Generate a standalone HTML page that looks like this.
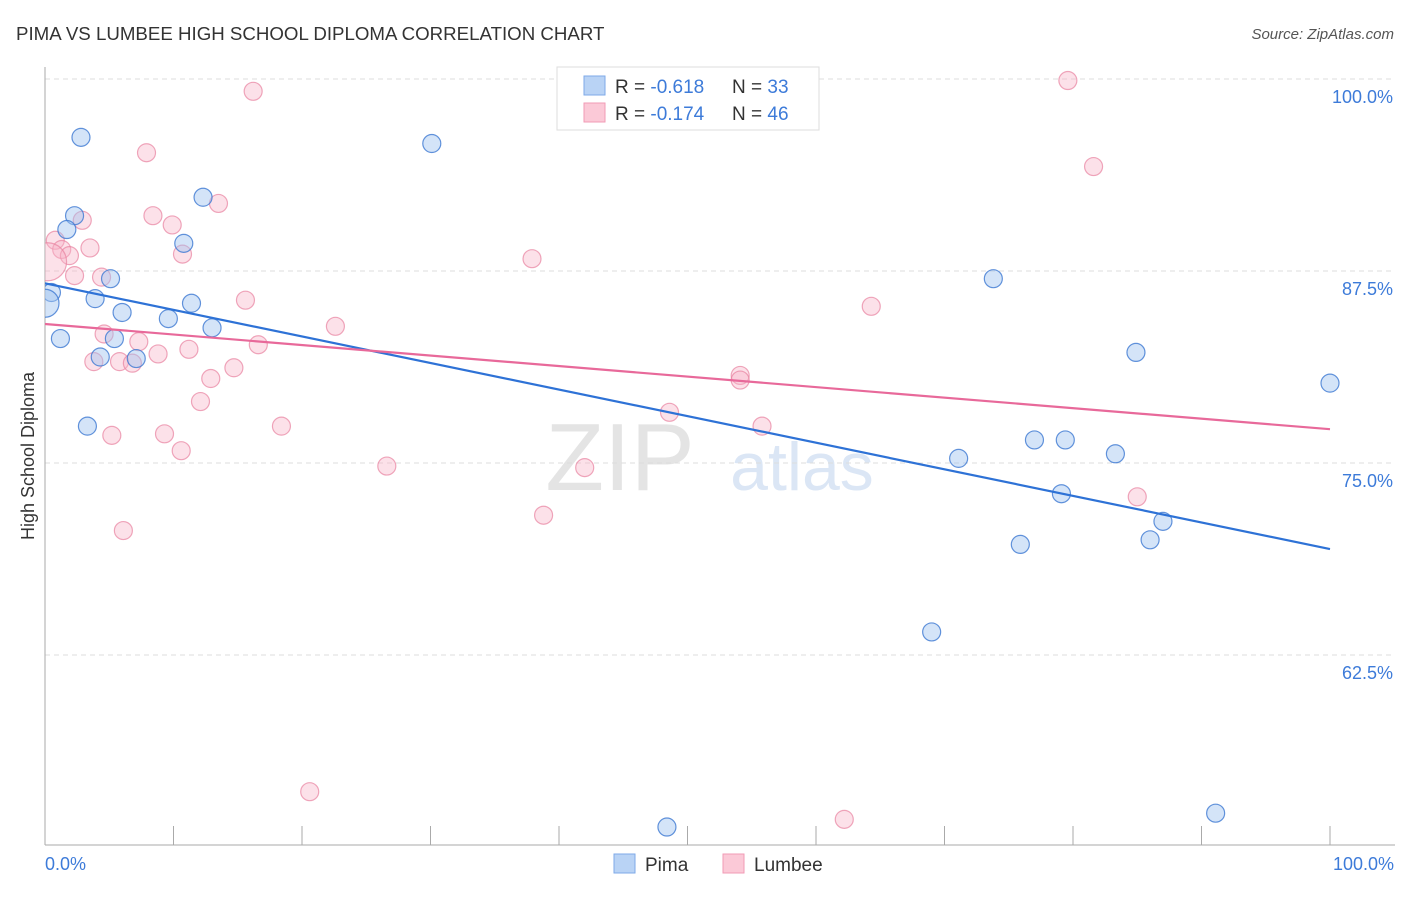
<!DOCTYPE html>
<html><head><meta charset="utf-8"><style>
body{margin:0;background:#fff;font-family:"Liberation Sans",sans-serif;}
svg text{font-family:"Liberation Sans",sans-serif;}
</style></head><body>
<svg id="chart" width="1406" height="892">
<defs><clipPath id="plotclip"><rect x="45" y="60" width="1360" height="785"/></clipPath></defs>
<text x="16" y="40" font-size="18.7" fill="#333">PIMA VS LUMBEE HIGH SCHOOL DIPLOMA CORRELATION CHART</text>
<text x="1394" y="39" font-size="15" fill="#555" font-style="italic" text-anchor="end">Source: ZipAtlas.com</text>
<text x="620" y="490" font-size="96" fill="#e4e4e4" font-family="Liberation Serif" text-anchor="middle">ZIP</text>
<text x="802" y="490" font-size="68" fill="#dbe6f5" text-anchor="middle">atlas</text>
<g id="grid"></g><g id="axes"></g><g id="pts" clip-path="url(#plotclip)"></g><g id="trend"></g>
<text transform="translate(34,456) rotate(-90)" font-size="18" fill="#333" text-anchor="middle">High School Diploma</text>
<text x="45" y="870" font-size="18" fill="#3d7bd9">0.0%</text>
<text x="1394" y="870" font-size="18" fill="#3d7bd9" text-anchor="end">100.0%</text>
<g>
<rect x="557" y="67" width="262" height="63" fill="#fff" stroke="#ddd"/>
<rect x="584" y="76" width="21" height="19" fill="#b9d3f5" stroke="#7eaae8"/>
<rect x="584" y="103" width="21" height="19" fill="#fbc9d7" stroke="#f19bb6"/>
<text x="615" y="93" font-size="19" fill="#333">R = <tspan fill="#3d7bd9">-0.618</tspan></text>
<text x="732" y="93" font-size="19" fill="#333">N = <tspan fill="#3d7bd9">33</tspan></text>
<text x="615" y="120" font-size="19" fill="#333">R = <tspan fill="#3d7bd9">-0.174</tspan></text>
<text x="732" y="120" font-size="19" fill="#333">N = <tspan fill="#3d7bd9">46</tspan></text>
</g>
<g>
<rect x="614" y="854" width="21" height="19" fill="#b9d3f5" stroke="#7eaae8"/>
<text x="645" y="871" font-size="19" fill="#333">Pima</text>
<rect x="723" y="854" width="21" height="19" fill="#fbc9d7" stroke="#f19bb6"/>
<text x="754" y="871" font-size="19" fill="#333">Lumbee</text>
</g>
</svg>
<script>
const pimaX=[2.8,2.3,1.7,0.5,0.0,1.2,3.9,5.1,6.0,5.4,4.3,7.1,3.3,9.6,10.8,11.4,12.3,13.0,30.1,73.8,84.9,100,71.1,77.0,79.4,83.3,79.1,87.0,86.0,75.9,69.0,48.4,91.1];
const pimaY=[96.2,91.1,90.2,86.1,85.4,83.1,85.7,87.0,84.8,83.1,81.9,81.8,77.4,84.4,89.3,85.4,92.3,83.8,95.8,87.0,82.2,80.2,75.3,76.5,76.5,75.6,73.0,71.2,70.0,69.7,64.0,51.3,52.2];
const lumX=[16.2,79.6,7.9,81.6,8.4,2.9,9.9,13.5,0.8,1.3,3.5,1.9,10.7,0.2,2.3,4.4,37.9,15.6,64.3,22.6,4.6,7.3,16.6,3.8,5.8,6.8,8.8,11.2,14.7,12.9,12.1,54.1,54.1,48.6,55.8,18.4,5.2,9.3,10.6,26.6,42.0,85.0,38.8,6.1,20.6,62.2];
const lumY=[99.2,99.9,95.2,94.3,91.1,90.8,90.5,91.9,89.5,88.9,89.0,88.5,88.6,88.1,87.2,87.1,88.3,85.6,85.2,83.9,83.4,82.9,82.7,81.6,81.6,81.5,82.1,82.4,81.2,80.5,79.0,80.7,80.4,78.3,77.4,77.4,76.8,76.9,75.8,74.8,74.7,72.8,71.6,70.6,53.6,51.8];
const pimaTrend=[86.7,69.4];
const lumTrend=[84.05,77.2];
const yTicks=[100,87.5,75,62.5];
const yTickLabels=["100.0%","87.5%","75.0%","62.5%"];
const xTicks=[0,10,20,30,40,50,60,70,80,90,100];
const NS="http://www.w3.org/2000/svg";
const X=v=>45+v*12.85, Y=v=>79+(100-v)*15.36;
function mk(tag,attrs,parent){const e=document.createElementNS(NS,tag);for(const k in attrs)e.setAttribute(k,attrs[k]);document.getElementById(parent).appendChild(e);return e;}
yTicks.forEach((t,i)=>{
 const l=mk('line',{x1:45,x2:1395,y1:Y(t),y2:Y(t),stroke:'#ddd','stroke-dasharray':'5,4'},'grid');
 
 
 const tx=mk('text',{x:1393,y:Y(t)+24,'font-size':18,fill:'#3d7bd9','text-anchor':'end'},'grid');
 tx.textContent=yTickLabels[i];
 
 
});
const ax=mk('line',{x1:45,x2:45,y1:67,y2:845,stroke:'#aaa'},'axes');


const bx=mk('line',{x1:45,x2:1395,y1:845,y2:845,stroke:'#aaa'},'axes');


xTicks.forEach(t=>{
 const l=mk('line',{x1:X(t),x2:X(t),y1:826,y2:845,stroke:'#aaa'},'axes');
 
 
});
function pts(xs,ys,fill,stroke,name,big){
 xs.forEach((x,i)=>{
  const r=(x<=0.3)?(big):9;
  const c=mk('circle',{cx:X(x),cy:Y(ys[i]),r:r,fill:fill,stroke:stroke,'stroke-width':1.2},'pts');
  
  
 });
}
pts(lumX,lumY,'rgba(248,180,200,0.4)','rgba(232,130,160,0.7)','lumbee-point',19);
pts(pimaX,pimaY,'rgba(160,196,240,0.45)','rgba(60,120,210,0.8)','pima-point',14);
const tp=mk('line',{x1:X(0),x2:X(100),y1:Y(pimaTrend[0]),y2:Y(pimaTrend[1]),stroke:'#2e72d6','stroke-width':2.2},'trend');


const tl=mk('line',{x1:X(0),x2:X(100),y1:Y(lumTrend[0]),y2:Y(lumTrend[1]),stroke:'#e8699a','stroke-width':2.2},'trend');


</script>
</body></html>
